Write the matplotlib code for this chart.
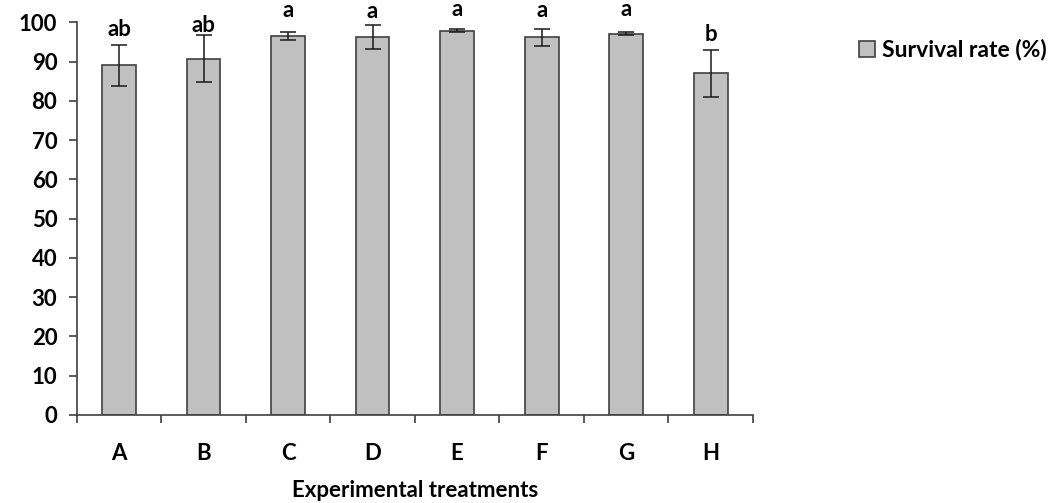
import matplotlib.pyplot as plt
import numpy as np

plt.rcParams['font.family'] = ['Lato', 'DejaVu Sans']
plt.rcParams['font.weight'] = 'bold'

# data
treatments = ['A', 'B', 'C', 'D', 'E', 'F', 'G', 'H']
survival = [89.0, 90.7, 96.5, 96.2, 97.9, 96.2, 97.1, 87.0]
errors = [5.1, 6.0, 1.0, 3.0, 0.5, 2.2, 0.4, 5.9]
letters = ['ab', 'ab', 'a', 'a', 'a', 'a', 'a', 'b']
letter_y = [96.5, 97.5, 101.4, 101.0, 101.5, 101.4, 101.6, 95.3]

fs = 16

fig = plt.figure(figsize=(10.64, 5.03), dpi=100)
ax = fig.add_axes([0.0721, 0.175, 0.6356, 0.7807])

x = np.arange(len(treatments))
ax.bar(x, survival, width=0.4, color='#c0c0c0', edgecolor='#404040',
       linewidth=1.2, label='Survival rate (%)', zorder=2)
ax.errorbar(x, survival, yerr=errors, fmt='none', ecolor='#1a1a1a',
            elinewidth=1.1, capsize=6, capthick=1.1, zorder=3)

for xi, lab, ly in zip(x, letters, letter_y):
    ax.text(xi, ly, lab, ha='center', va='baseline', fontsize=fs,
            fontweight='bold', clip_on=False)

ax.set_xlim(-0.5, len(treatments) - 0.5)
ax.set_ylim(0, 100)
ax.set_yticks(range(0, 101, 10))
ax.set_xticks(x)
ax.set_xticklabels(treatments)
ax.set_xticks(np.arange(-0.5, len(treatments), 1), minor=True)
ax.tick_params(axis='x', which='major', length=0, pad=20, labelsize=fs)
ax.tick_params(axis='x', which='minor', length=6, width=1.2, color='#404040',
               direction='out')
ax.tick_params(axis='y', length=6, width=1.2, color='#404040', pad=8,
               labelsize=fs)
for lab in ax.get_xticklabels() + ax.get_yticklabels():
    lab.set_fontweight('bold')

for s in ['top', 'right']:
    ax.spines[s].set_visible(False)
for s in ['left', 'bottom']:
    ax.spines[s].set_color('#404040')
    ax.spines[s].set_linewidth(1.2)

ax.set_xlabel('Experimental treatments', fontsize=fs, fontweight='bold',
              labelpad=12)

fig.legend(loc='center left', bbox_to_anchor=(838 / 1064, 1 - 50 / 503),
           frameon=False, prop={'size': 16.5, 'weight': 'bold'},
           handlelength=0.7, handleheight=0.7, handletextpad=0.3)

fig.savefig('out.png', dpi=100)
